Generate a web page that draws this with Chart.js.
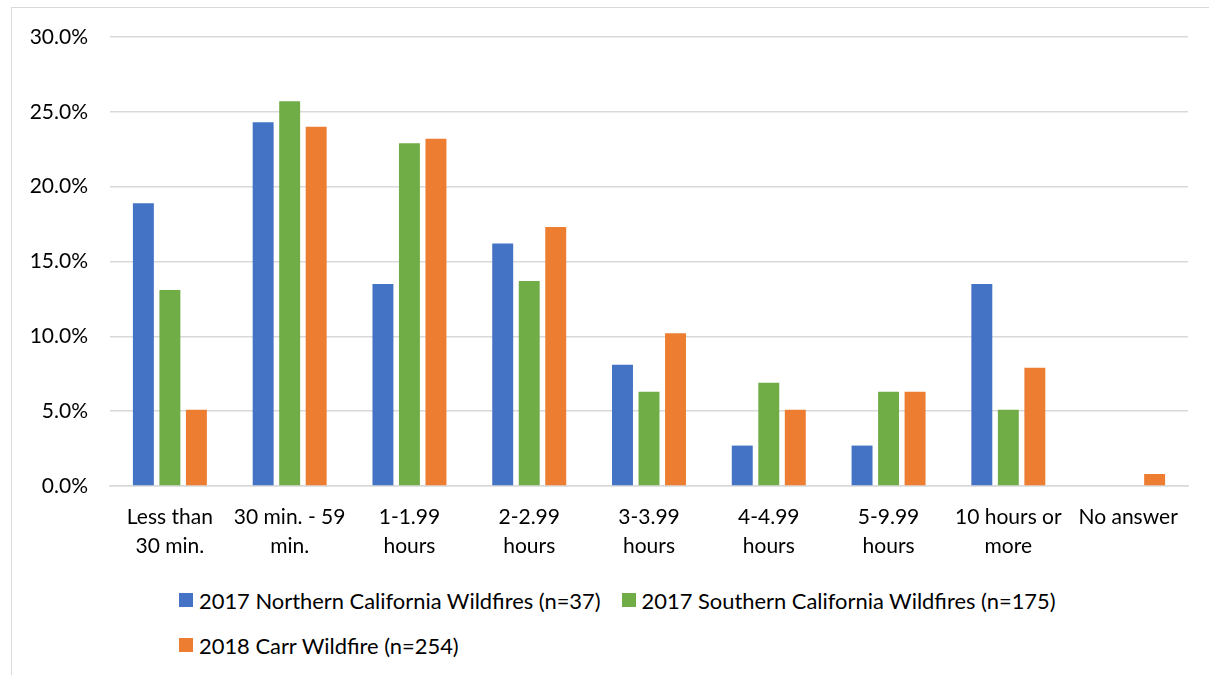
<!DOCTYPE html>
<html>
<head>
<meta charset="utf-8">
<script src="https://cdn.jsdelivr.net/npm/chart.js@4/dist/chart.umd.min.js"></script>
<style>
  html, body { margin: 0; padding: 0; background: #fff; }
  body { width: 1209px; height: 675px; position: relative; overflow: hidden; font-family: Lato, "Open Sans", sans-serif; }
  #frame { position: absolute; left: 11px; top: 7px; width: 1300px; height: 800px; border: 1px solid #d9d9d9; box-sizing: border-box; }
  #wrap { position: absolute; left: 0; top: 0; width: 1209px; height: 580px; }
  #legend { position: absolute; left: 179px; top: 586px; width: 960px; display: flex; flex-wrap: wrap; row-gap: 17px; column-gap: 21px; font-size: 21.9px; color: #000; }
  .item { display: flex; align-items: center; height: 28px; white-space: nowrap; }
  .swatch { width: 14px; height: 14px; margin-right: 6px; }
</style>
</head>
<body>
<div id="frame"></div>
<div id="wrap"><canvas id="c" width="1209" height="580"></canvas></div>
<div id="legend"></div>
<script>
// Time categories (multi-line axis labels)
const categories = [
  ["Less than", "30 min."],
  ["30 min. - 59", "min."],
  ["1-1.99", "hours"],
  ["2-2.99", "hours"],
  ["3-3.99", "hours"],
  ["4-4.99", "hours"],
  ["5-9.99", "hours"],
  ["10 hours or", "more"],
  ["No answer"]
];

// Share of respondents per survey, in percent
const northern2017 = [18.9, 24.3, 13.5, 16.2, 8.1, 2.7, 2.7, 13.5, 0];
const southern2017 = [13.1, 25.7, 22.9, 13.7, 6.3, 6.9, 6.3, 5.1, 0];
const carr2018     = [5.1, 24.0, 23.2, 17.3, 10.2, 5.1, 6.3, 7.9, 0.8];

const seriesNames = [
  "2017 Northern California Wildfires (n=37)",
  "2017 Southern California Wildfires (n=175)",
  "2018 Carr Wildfire (n=254)"
];
const seriesColors = ["#4472C4", "#70AD47", "#ED7D31"];

const yTicks = [0, 5, 10, 15, 20, 25, 30];

const FONT = "Lato";
const PLOT_BOTTOM = 486;

const datasets = [northern2017, southern2017, carr2018].map((values, i) => ({
  label: seriesNames[i],
  data: values,
  backgroundColor: seriesColors[i],
  borderWidth: 0,
  categoryPercentage: 0.664,
  barPercentage: 0.79
}));

const chart = new Chart(document.getElementById("c"), {
  type: "bar",
  data: { labels: categories, datasets },
  options: {
    responsive: false,
    animation: false,
    layout: { padding: { left: 0, right: 21, top: 37, bottom: 0 } },
    plugins: { legend: { display: false }, tooltip: { enabled: false } },
    scales: {
      x: {
        afterFit: (scale) => { scale.height = 580 - PLOT_BOTTOM; },
        grid: { display: false, drawTicks: false },
        border: { display: true, color: "#d9d9d9", width: 1.5 },
        ticks: {
          color: "#000",
          padding: 17,
          maxRotation: 0,
          autoSkip: false,
          font: { family: FONT, size: 21, lineHeight: 1.38 }
        }
      },
      y: {
        min: 0,
        max: 30,
        afterBuildTicks: (scale) => { scale.ticks = yTicks.map(v => ({ value: v })); },
        afterFit: (scale) => { scale.width = 110; },
        grid: { color: "#d9d9d9", lineWidth: 1.5, drawTicks: false },
        border: { display: false },
        ticks: {
          color: "#000",
          padding: 22,
          font: { family: FONT, size: 21 },
          callback: (v) => Number(v).toFixed(1) + "%"
        }
      }
    }
  }
});

// Legend built from the chart's datasets
const legend = document.getElementById("legend");
chart.data.datasets.forEach((ds) => {
  const item = document.createElement("div");
  item.className = "item";
  const sw = document.createElement("span");
  sw.className = "swatch";
  sw.style.background = ds.backgroundColor;
  const tx = document.createElement("span");
  tx.textContent = ds.label;
  item.appendChild(sw);
  item.appendChild(tx);
  legend.appendChild(item);
});
</script>
</body>
</html>
